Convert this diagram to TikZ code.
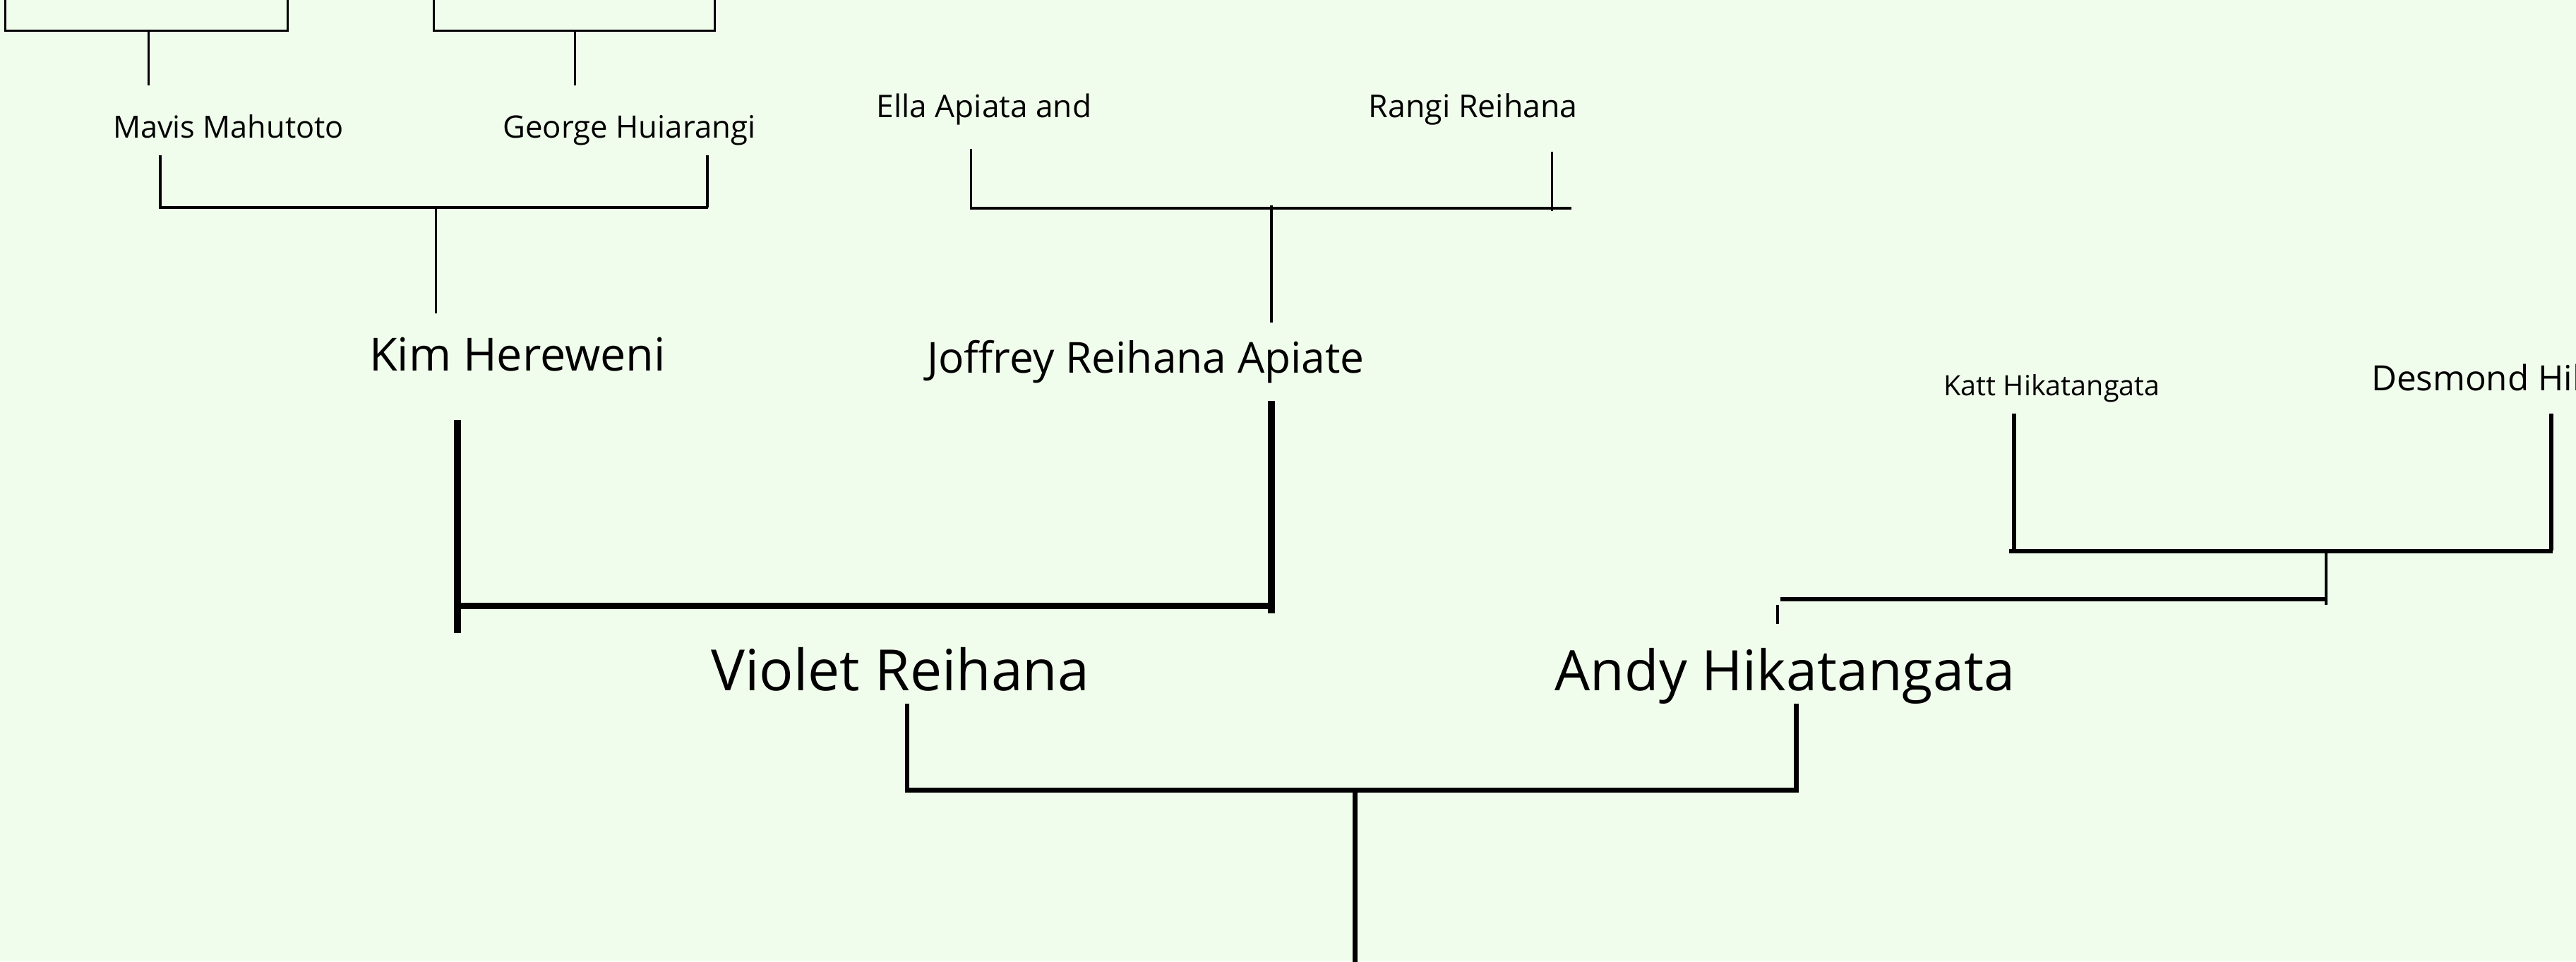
\documentclass[tikz,border=0pt]{standalone}
\usepackage{fontspec}
\setmainfont{Open Sans}
\definecolor{bg}{HTML}{F1FDEC}
\newcommand{\fs}[1]{\fontsize{#1}{#1}\selectfont}
\begin{document}
\begin{tikzpicture}[x=0.5pt,y=-0.5pt,
  person/.style={inner sep=0pt,anchor=base,text=black},
  hair/.style={line width=0.65pt,black},
  fine/.style={line width=0.9pt,black},
  mid/.style={line width=1.35pt,black},
  heavy/.style={line width=2.1pt,black}]
\useasboundingbox (0,0) rectangle (1568,585.27);
\fill[bg] (0,0) rectangle (1568,585.27);
\clip (0,0) rectangle (1568,585.27);

% names
\node[person] (mavis) at (139,83.8) {\fs{9.3pt}Mavis Mahutoto};
\node[person] (george) at (383,83.8) {\fs{9.4pt}George Huiarangi};
\node[person] (ella) at (599,71.5) {\fs{9.5pt}Ella Apiata and};
\node[person] (rangi) at (896.7,71.5) {\fs{9.6pt}Rangi Reihana};
\node[person] (kim) at (315,226) {\fs{13.9pt}Kim Hereweni};
\node[person] (joffrey) at (697.4,227) {\fs{13pt}Joffrey Reihana Apiate};
\node[person] (violet) at (548,420.5) {\fs{17.3pt}Violet Reihana};
\node[person] (andy) at (1086.5,420.5) {\fs{17pt}Andy Hikatangata};
\node[person] (katt) at (1249,240.7) {\fs{8.5pt}Katt Hikatangata};
\node[person,anchor=base west] (desmond) at (1443,238) {\fs{10.6pt}Desmond Hikatangata};

% bracket A
\coordinate (a1) at (3.3,0);   \coordinate (a2) at (3.3,18.9);
\coordinate (a3) at (175.3,18.9); \coordinate (a4) at (175.3,0);
\coordinate (a5) at (90.4,18.9); \coordinate (a6) at (90.4,52);
\draw[hair] (a1) -- (a2) -- (a3) -- (a4);
\draw[hair] (a5) -- (a6);
% bracket B
\coordinate (b1) at (264,0);   \coordinate (b2) at (264,18.9);
\coordinate (b3) at (435,18.9); \coordinate (b4) at (435,0);
\coordinate (b5) at (350,18.9); \coordinate (b6) at (350,52);
\draw[hair] (b1) -- (b2) -- (b3) -- (b4);
\draw[hair] (b5) -- (b6);
% bracket C
\coordinate (c1) at (97.7,94.6); \coordinate (c2) at (97.7,126.5);
\coordinate (c3) at (430.5,94.6); \coordinate (c4) at (430.5,126.5);
\coordinate (c5) at (96.5,126.5); \coordinate (c6) at (431.2,126.5);
\coordinate (c7) at (265.3,126.5); \coordinate (c8) at (265.3,191);
\draw[fine] (c1) -- (c2);
\draw[fine] (c3) -- (c4);
\draw[fine] (c5) -- (c6);
\draw[hair] (c7) -- (c8);
% bracket D
\coordinate (d1) at (591,90.6); \coordinate (d2) at (591,126.8);
\coordinate (d3) at (944.5,92.2); \coordinate (d4) at (944.5,128.4);
\coordinate (d5) at (590.5,126.8); \coordinate (d6) at (956.6,126.8);
\coordinate (d7) at (774,125); \coordinate (d8) at (774,196.3);
\draw[hair] (d1) -- (d2);
\draw[hair] (d3) -- (d4);
\draw[fine] (d5) -- (d6);
\draw[fine] (d7) -- (d8);
% bracket E
\coordinate (e1) at (278.5,255.7); \coordinate (e2) at (278.5,385.3);
\coordinate (e3) at (278.5,368.9); \coordinate (e4) at (772.4,368.9);
\coordinate (e5) at (774,244.2); \coordinate (e6) at (774,373.5);
\draw[heavy] (e1) -- (e2);
\draw[heavy] (e3) -- (e4);
\draw[heavy] (e5) -- (e6);
% bracket F
\coordinate (f1) at (1226,251.8); \coordinate (f2) at (1226,335.2);
\coordinate (f3) at (1552.9,251.8); \coordinate (f4) at (1552.9,335.2);
\coordinate (f5) at (1223,335.5); \coordinate (f6) at (1553.8,335.5);
\coordinate (f7) at (1416,336.6); \coordinate (f8) at (1416,368.2);
\coordinate (f9) at (1083.8,364.9); \coordinate (f10) at (1415,364.9);
\coordinate (f11) at (1082,368.4); \coordinate (f12) at (1082,380);
\draw[mid] (f1) -- (f2);
\draw[mid] (f3) -- (f4);
\draw[mid] (f5) -- (f6);
\draw[fine] (f7) -- (f8);
\draw[mid] (f9) -- (f10);
\draw[fine] (f11) -- (f12);
% bracket G
\coordinate (g1) at (552.3,428.4); \coordinate (g2) at (552.3,481);
\coordinate (g3) at (1093.4,428.4); \coordinate (g4) at (1093.4,481);
\coordinate (g5) at (550.8,481); \coordinate (g6) at (1094.8,481);
\coordinate (g7) at (824.8,481); \coordinate (g8) at (824.8,590);
\draw[mid] (g1) -- (g2);
\draw[mid] (g3) -- (g4);
\draw[mid] (g5) -- (g6);
\draw[mid] (g7) -- (g8);
\end{tikzpicture}
\end{document}
